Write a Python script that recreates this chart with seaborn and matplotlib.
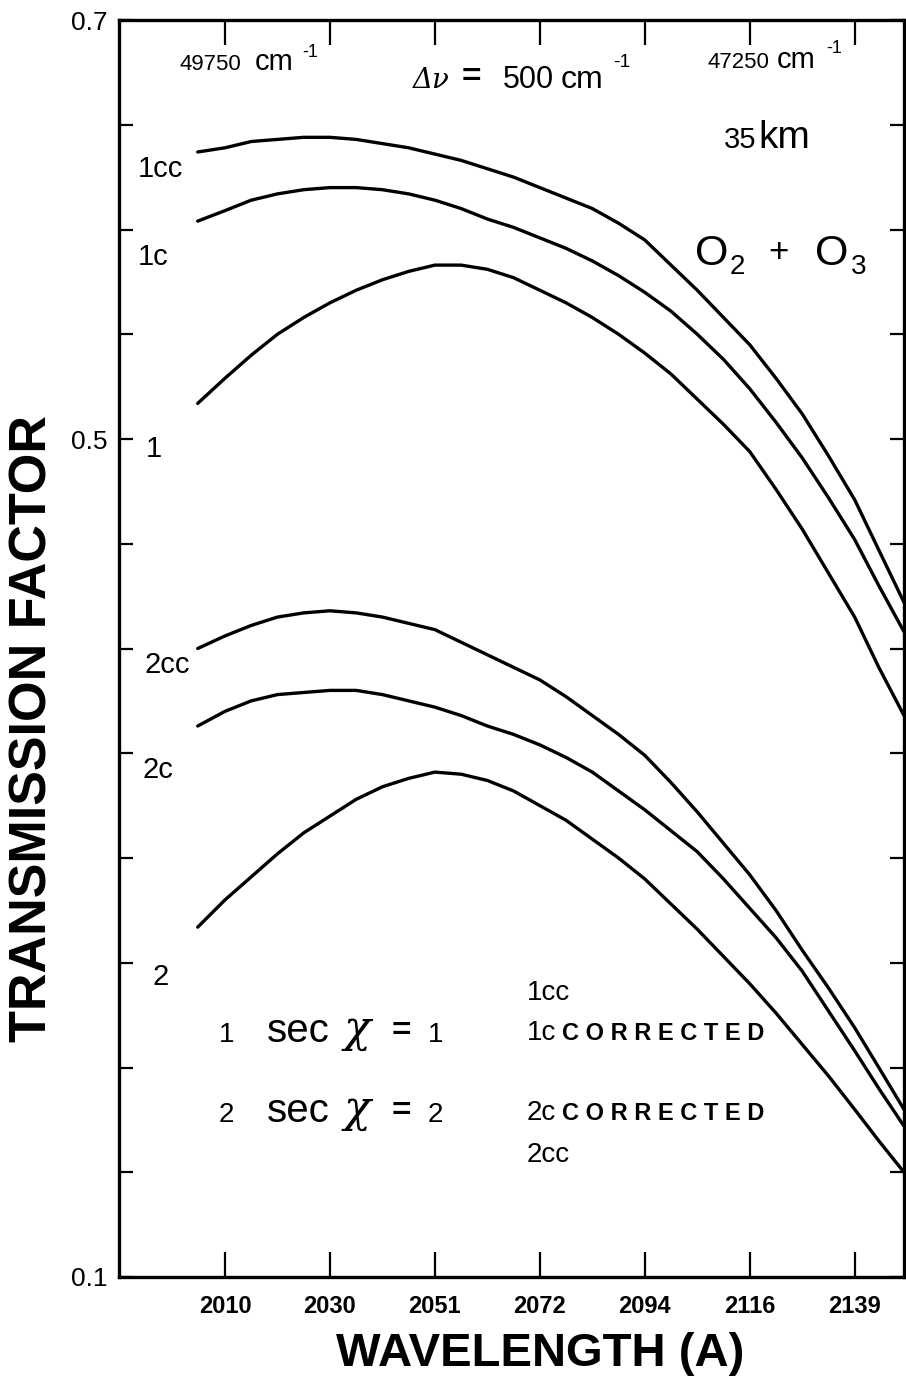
import numpy as np
import pandas as pd
import matplotlib
matplotlib.use("Agg")
import matplotlib.pyplot as plt
import seaborn as sns

# ---------------- data ----------------
nu = [49880, 49750, 49625, 49500, 49375, 49250, 49125, 49000, 48875, 48750,
      48625, 48500, 48375, 48250, 48125, 48000, 47875, 47750, 47625, 47500,
      47375, 47250, 47125, 47000, 46875, 46750, 46635, 46515]          # cm^-1
t_1cc = [0.637, 0.639, 0.642, 0.643, 0.644, 0.644, 0.643, 0.641, 0.639, 0.636,
         0.633, 0.629, 0.625, 0.620, 0.615, 0.610, 0.603, 0.595, 0.583, 0.571,
         0.558, 0.545, 0.529, 0.512, 0.492, 0.471, 0.447, 0.422]
t_1c = [0.604, 0.609, 0.614, 0.617, 0.619, 0.620, 0.620, 0.619, 0.617, 0.614,
        0.610, 0.605, 0.601, 0.596, 0.591, 0.585, 0.578, 0.570, 0.561, 0.550,
        0.538, 0.524, 0.508, 0.491, 0.472, 0.452, 0.430, 0.408]
t_1 = [0.517, 0.529, 0.540, 0.550, 0.558, 0.565, 0.571, 0.576, 0.580, 0.583,
       0.583, 0.581, 0.577, 0.571, 0.565, 0.558, 0.550, 0.541, 0.531, 0.519,
       0.507, 0.494, 0.476, 0.457, 0.436, 0.415, 0.391, 0.368]
t_2cc = [0.400, 0.406, 0.411, 0.415, 0.417, 0.418, 0.417, 0.415, 0.412, 0.409,
         0.403, 0.397, 0.391, 0.385, 0.377, 0.368, 0.359, 0.349, 0.336, 0.322,
         0.307, 0.292, 0.275, 0.256, 0.238, 0.219, 0.200, 0.180]
t_2c = [0.363, 0.370, 0.375, 0.378, 0.379, 0.380, 0.380, 0.378, 0.375, 0.372,
        0.368, 0.363, 0.359, 0.354, 0.348, 0.341, 0.332, 0.323, 0.313, 0.303,
        0.290, 0.276, 0.262, 0.246, 0.227, 0.208, 0.190, 0.172]
t_2 = [0.267, 0.280, 0.291, 0.302, 0.312, 0.320, 0.328, 0.334, 0.338, 0.341,
       0.340, 0.337, 0.332, 0.325, 0.318, 0.309, 0.300, 0.290, 0.278, 0.266,
       0.253, 0.240, 0.226, 0.211, 0.196, 0.180, 0.165, 0.150]

curve_names = ["1cc", "1c", "1", "2cc", "2c", "2"]
xtick_nu = [49750, 49250, 48750, 48250, 47750, 47250, 46750]
xtick_labels = ["2010", "2030", "2051", "2072", "2094", "2116", "2139"]
ytick_vals = [0.10, 0.15, 0.20, 0.25, 0.30, 0.35, 0.40, 0.45,
              0.50, 0.55, 0.60, 0.65, 0.70]
ytick_labels = ["0.1", "", "", "", "", "", "", "", "0.5", "", "", "", "0.7"]

series = {"1cc": t_1cc, "1c": t_1c, "1": t_1,
          "2cc": t_2cc, "2c": t_2c, "2": t_2}
df = pd.concat([pd.DataFrame({"nu": nu, "T": series[k], "curve": k})
                for k in curve_names], ignore_index=True)

# ---------------- style ----------------
sns.set_theme(style="ticks")
plt.rcParams["font.family"] = ["Liberation Sans", "DejaVu Sans"]
plt.rcParams["text.color"] = "black"

W, H = 906, 1376
fig = plt.figure(figsize=(W / 100, H / 100), dpi=100)
L, R, T, B = 119, 904, 20, 1277
ax = fig.add_axes([L / W, 1 - B / H, (R - L) / W, (B - T) / H])

sns.lineplot(data=df, x="nu", y="T", units="curve", estimator=None,
             color="black", linewidth=2.4, sort=False, legend=False, ax=ax)

ax.set_xlim(50255, 46515)
ax.set_ylim(0.1, 0.7)
ax.set_xlabel("")
ax.set_ylabel("")

ax.set_xticks(xtick_nu)
ax.set_xticklabels(xtick_labels, fontsize=17, fontweight="bold")
ax.set_yticks(ytick_vals)
ax.set_yticklabels(ytick_labels, fontsize=19)

ax.tick_params(axis="x", direction="in", length=18, width=1.6,
               top=True, bottom=True, pad=13, colors="black")
ax.tick_params(axis="y", direction="in", length=10, width=1.6,
               left=True, right=True, pad=8, colors="black")
for s in ax.spines.values():
    s.set_linewidth(2.4)
    s.set_color("black")


def P(px, py):
    return ((px - L) / (R - L), (B - py) / (B - T))


def txt(px, py, s, size, **kw):
    kw.setdefault("va", "baseline")
    kw.setdefault("ha", "left")
    ax.text(*P(px, py), s, fontsize=size, transform=ax.transAxes,
            color="black", clip_on=False, **kw)


# axis titles
fig.text(33 / W, 1 - 729 / H, "TRANSMISSION FACTOR", rotation=90,
         fontsize=37.5, fontweight="bold", ha="center", va="center")
fig.text(540 / W, 1 - 1354 / H, "WAVELENGTH (A)", fontsize=34,
         fontweight="bold", ha="center", va="center")

# top annotations
txt(180, 70, "49750", 16)
txt(255, 70, "cm", 21)
txt(302, 57, "-1", 13)

txt(413, 88, "Δν", 20, family="DejaVu Serif", style="italic")
txt(462, 86, "=", 24, fontweight="bold")
txt(503, 88, "500", 22)
txt(561, 88, "cm", 23)
txt(613, 67, "-1", 14)

txt(707, 68, "47250", 16)
txt(777, 68, "cm", 21)
txt(826, 53, "-1", 13)

txt(724, 148, "35", 21)
txt(758, 148, "km", 28)

txt(695, 265, "O", 31)
txt(730, 274, "2", 20)
txt(768, 262, "+", 25)
txt(815, 265, "O", 31)
txt(851, 274, "3", 20)

# curve labels
txt(138, 177, "1cc", 21)
txt(138, 265, "1c", 21)
txt(146, 457, "1", 21)
txt(144, 673, "2cc", 21)
txt(142, 778, "2c", 21)
txt(153, 985, "2", 21)

# key
for yb, d in ((1042, "1"), (1122, "2")):
    txt(219, yb, d, 20)
    txt(267, yb, "sec", 29)
    txt(344, yb, "χ", 32, family="DejaVu Serif", style="italic")
    txt(392, yb - 2, "=", 24, fontweight="bold")
    txt(428, yb, d, 20)

corr = " ".join("CORRECTED")
txt(527, 1000, "1cc", 20)
txt(527, 1040, "1c", 20)
txt(562, 1040, corr, 17, fontweight="bold")
txt(527, 1120, "2c", 20)
txt(562, 1120, corr, 17, fontweight="bold")
txt(527, 1162, "2cc", 20)

fig.savefig("out.png", dpi=100, facecolor="white")
